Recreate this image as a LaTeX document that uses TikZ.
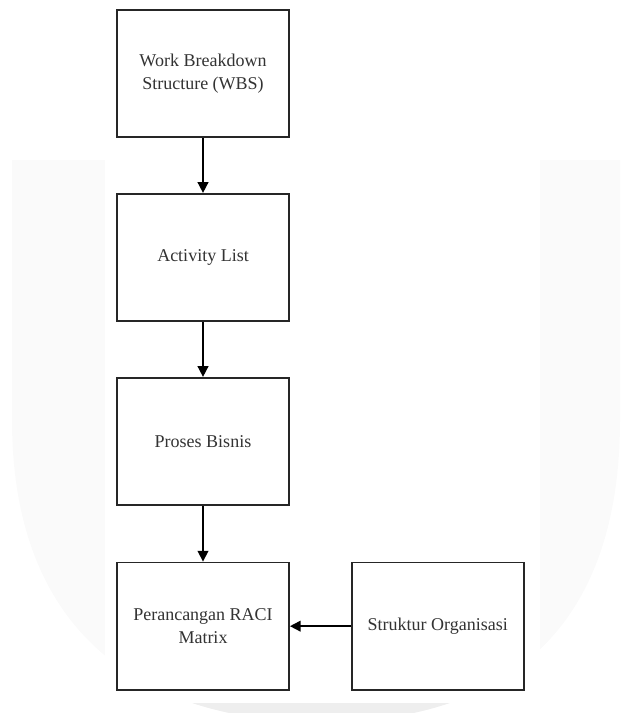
\documentclass[tikz,border=0pt]{standalone}
\usepackage{fontspec}
\setmainfont{Liberation Serif}
\usetikzlibrary{positioning,arrows.meta}

\begin{document}
\begin{tikzpicture}[x=0.75pt,y=-0.75pt,node distance=138pt,on grid,
        box/.style={draw=black!85,line width=1.4pt,rectangle,fill=white,
            minimum width=129pt,minimum height=95.5pt,align=center,
            text=black!80,font=\fontsize{13.5}{17}\selectfont},
        flow/.style={-{Triangle[length=8pt,width=8pt]},line width=1.2pt}]
    \useasboundingbox (0,0) rectangle (623,713);
    % faint watermark behind the diagram
    \fill[gray!4] (12,160) -- (12,420) .. controls (12,640) and (150,722) .. (322,722)
        .. controls (494,722) and (620,640) .. (620,420) -- (620,160) -- cycle;
    \begin{scope}
        \clip (0,703) rectangle (623,713);
        \fill[gray!13] (12,160) -- (12,420) .. controls (12,640) and (150,722) .. (322,722)
            .. controls (494,722) and (620,640) .. (620,420) -- (620,160) -- cycle;
    \end{scope}
    \fill[white] (105,0) rectangle (540,703);
        \node[box] (wbs) at (203,73.5) {Work Breakdown\\Structure (WBS)};
        \node[box] (activity) [below=of wbs] {Activity List};
        \node[box] (proses) [below=of activity] {Proses Bisnis};
        \node[box] (raci) [below=of proses, yshift=-0.5pt] {Perancangan RACI\\Matrix};
        \node[box] (struktur) [right=176pt of raci] {Struktur Organisasi};
        \draw[flow] (wbs) -- (activity);
        \draw[flow] (activity) -- (proses);
        \draw[flow] (proses) -- (raci);
        \draw[flow] (struktur) -- (raci);
    \end{tikzpicture}
\end{document}
